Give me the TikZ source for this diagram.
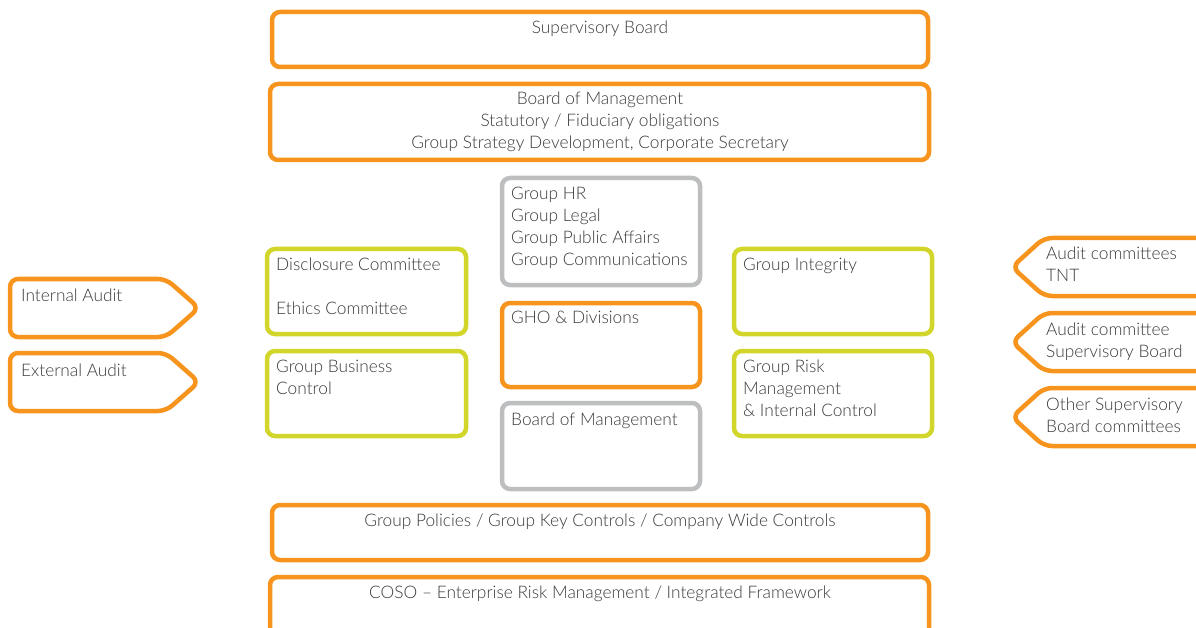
\documentclass[tikz,border=0pt]{standalone}
\usepackage{fontspec}
\setmainfont{Lato Light}
\definecolor{orng}{HTML}{F7941E}
\definecolor{ylw}{HTML}{D2D62A}
\definecolor{gry}{HTML}{BDBEC0}
\definecolor{txt}{HTML}{3A3A3C}
\begin{document}
\begin{tikzpicture}[x=1pt,y=-1pt,
  frame/.style={line width=4.5pt,rounded corners=8pt,fill=white},
  obox/.style={frame,draw=orng},
  gbox/.style={frame,draw=gry},
  ybox/.style={frame,draw=ylw},
  lbl/.style={inner sep=0pt,text=txt,font=\fontsize{17.3}{22}\selectfont,align=left,anchor=north west},
  clbl/.style={inner sep=0pt,text=txt,font=\fontsize{17.3}{22}\selectfont,align=center,anchor=north}]
\useasboundingbox (0,0) rectangle (1196,628);
% top
\draw[obox] (272,12) rectangle (928,67);
\node[clbl] (sb) at (600,20.5) {Supervisory Board};
\draw[obox] (270,84) rectangle (929,160);
\node[clbl] (bom) at (600,91.5) {Board of Management\\Statutory / Fiduciary obligations\\Group Strategy Development, Corporate Secretary};
% center column
\draw[gbox] (502,178) rectangle (700,285);
\node[lbl] (hr) at (511,186.5) {Group HR\\Group Legal\\Group Public Affairs\\Group Communications};
\draw[obox] (502,303) rectangle (700,387);
\node[lbl] (gho) at (511,310.5) {GHO \& Divisions};
\draw[gbox] (502,403) rectangle (700,489);
\node[lbl] (bom2) at (511,412.5) {Board of Management};
% left column
\draw[ybox] (267,249) rectangle (466,334);
\node[lbl] (disc) at (276,257.5) {Disclosure Committee\\[0pt]\\[-0pt]Ethics Committee};
\draw[ybox] (267,351) rectangle (466,436);
\node[lbl] (gbc) at (276,359.5) {Group Business\\Control};
% right column
\draw[ybox] (734,249) rectangle (932,334);
\node[lbl] (gi) at (743,257.5) {Group Integrity};
\draw[ybox] (734,351) rectangle (932,436);
\node[lbl] (grm) at (743,359.5) {Group Risk\\Management\\\& Internal Control};
% bottom
\draw[obox] (272,505) rectangle (928,560);
\node[clbl] (gp) at (600,513.5) {Group Policies / Group Key Controls / Company Wide Controls};
\draw[obox] (270,577) -- (270,640) -- (929,640) -- (929,577) -- cycle;
\node[clbl] (coso) at (600,585.5) {COSO -- Enterprise Risk Management / Integrated Framework};
% left arrows
\draw[obox] (10,279) -- (166,279) -- (199,308) -- (166,337) -- (10,337) -- cycle;
\node[lbl] (ia) at (21,288.5) {Internal Audit};
\draw[obox] (10,353) -- (166,353) -- (199,382) -- (166,411) -- (10,411) -- cycle;
\node[lbl] (ea) at (21,363.5) {External Audit};
% right arrows
\draw[obox] (1210,238) -- (1044,238) -- (1012,267) -- (1044,296) -- (1210,296);
\node[lbl] (ac) at (1046,246.5) {Audit committees\\TNT};
\draw[obox] (1210,313) -- (1044,313) -- (1012,342) -- (1044,371) -- (1210,371);
\node[lbl] (acs) at (1046,322.5) {Audit committee\\Supervisory Board};
\draw[obox] (1210,388) -- (1044,388) -- (1012,417) -- (1044,446) -- (1210,446);
\node[lbl] (osb) at (1046,397.5) {Other Supervisory\\Board committees};
\end{tikzpicture}
\end{document}
